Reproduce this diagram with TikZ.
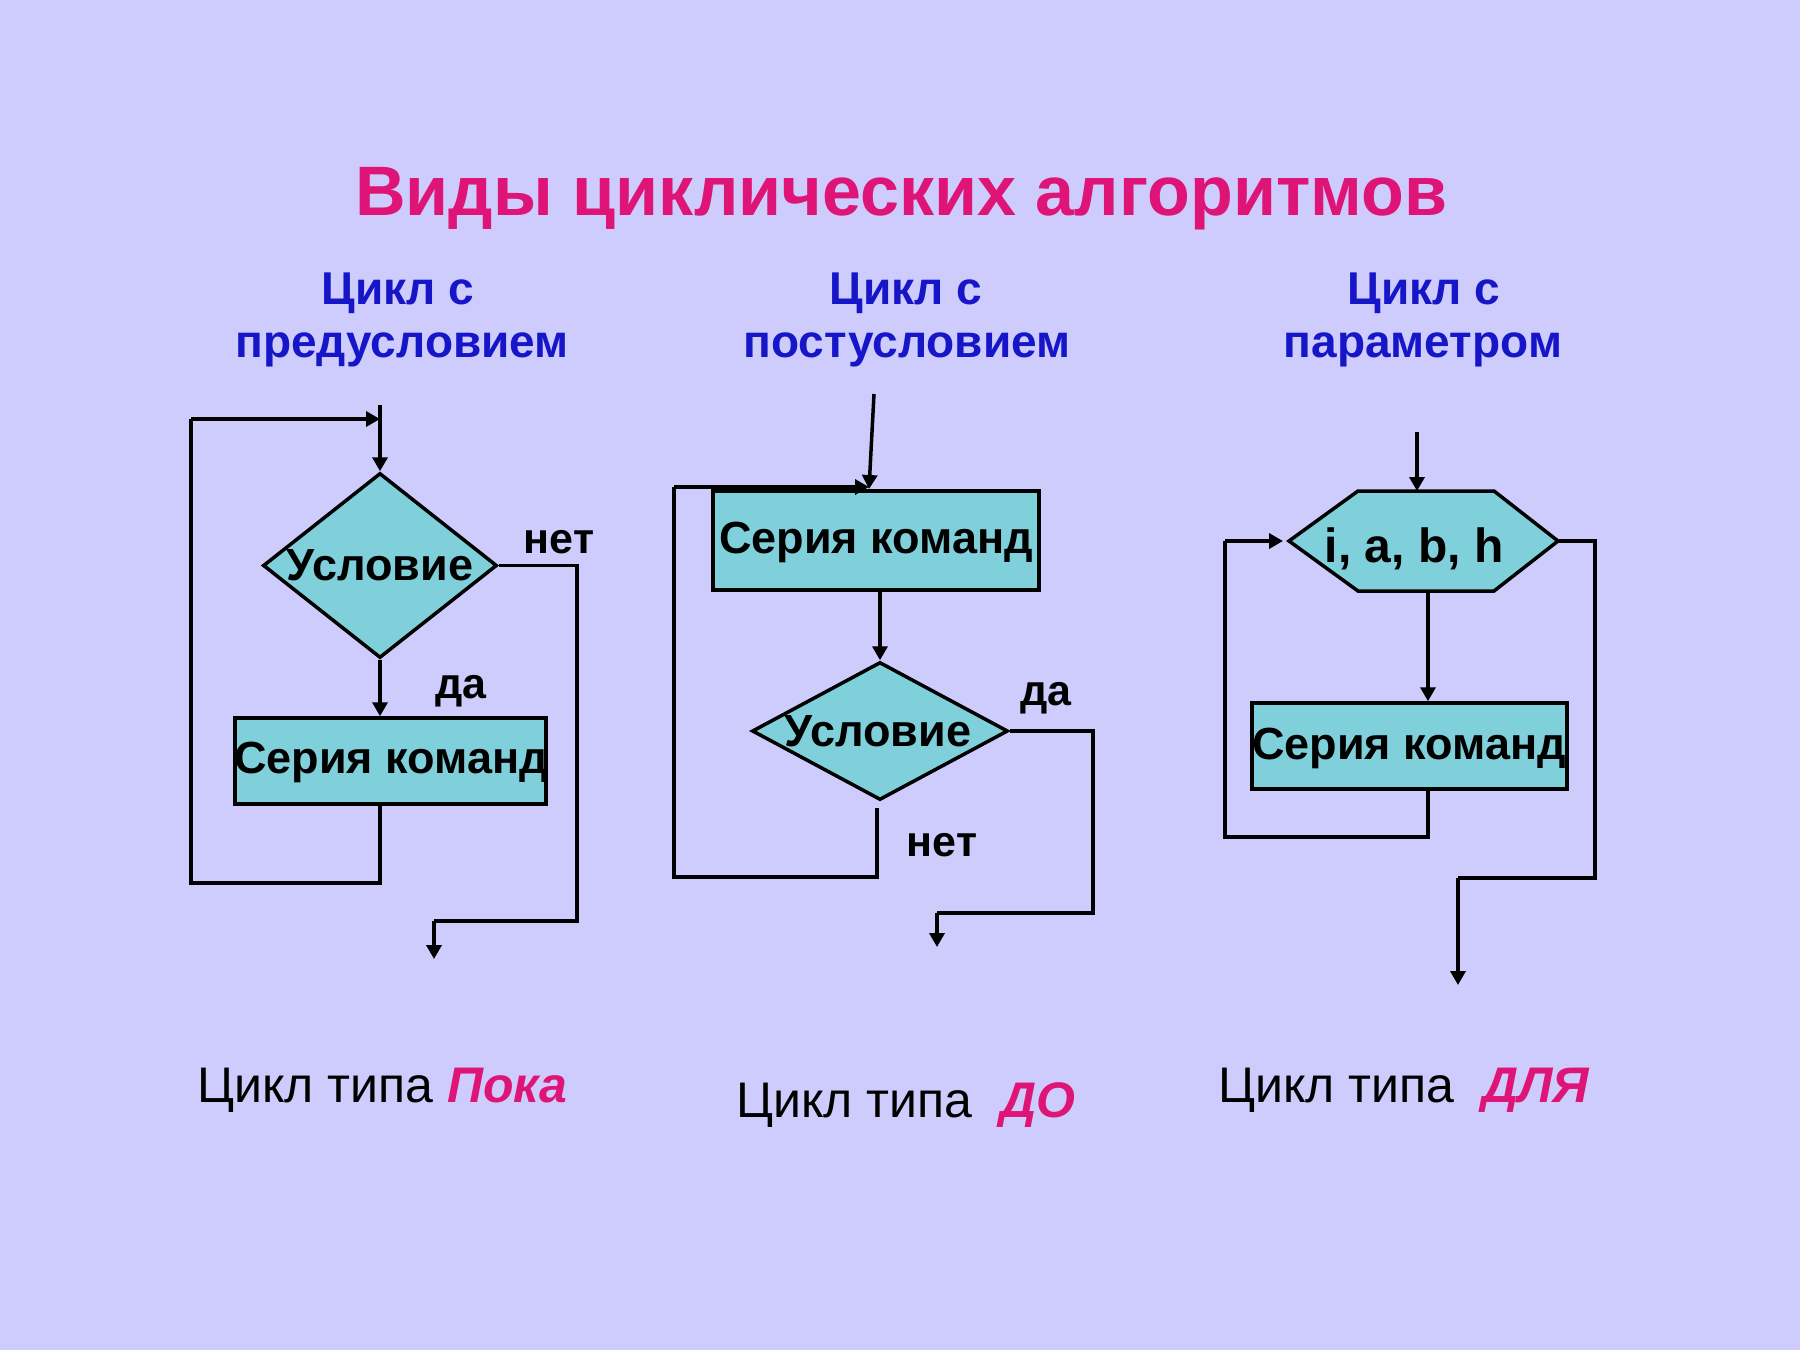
\documentclass[tikz,border=0pt]{standalone}
\usepackage{fontspec}
\setmainfont{Liberation Sans}
\usetikzlibrary{shapes.geometric,arrows.meta}
\definecolor{bg}{RGB}{205,204,252}
\definecolor{boxfill}{RGB}{128,208,220}
\definecolor{ttl}{RGB}{222,20,118}
\definecolor{subc}{RGB}{22,22,200}
\newcommand{\hlword}[1]{\textcolor{ttl}{\bfseries\itshape #1}}
\begin{document}
\begin{tikzpicture}[x=0.5pt,y=-0.5pt,
  ln/.style={line width=1.75pt, draw=black},
  arr/.style={ln, -{Triangle[width=7.5pt,length=7pt]}},
  blk/.style={draw=black, line width=1.75pt, fill=boxfill},
  dia/.style={blk, diamond, inner sep=0pt},
  boxs/.style={blk, rectangle, inner sep=0pt},
  bt/.style={inner sep=0pt, font=\bfseries\fontsize{22.5pt}{24pt}\selectfont},
  lbl/.style={inner sep=0pt, anchor=base, font=\bfseries\fontsize{21.5pt}{23pt}\selectfont},
  subh/.style={inner sep=0pt, anchor=base, text=subc, font=\bfseries\fontsize{23pt}{25pt}\selectfont},
  bot/.style={inner sep=0pt, anchor=base west, font=\fontsize{25pt}{27pt}\selectfont}
]
\useasboundingbox (0,0) rectangle (1800,1350);
\fill[bg] (0,0) rectangle (1800,1350);

% title
\node[inner sep=0pt, anchor=base, text=ttl, font=\bfseries\fontsize{35pt}{37pt}\selectfont] (title) at (901,215) {Виды циклических алгоритмов};

% subheadings
\node[subh] (s1a) at (398,304) {Цикл с};
\node[subh] (s1b) at (402,357) {предусловием};
\node[subh] (s2a) at (906,304) {Цикл с};
\node[subh] (s2b) at (907,357) {постусловием};
\node[subh] (s3a) at (1424,304) {Цикл с};
\node[subh] (s3b) at (1423,357) {параметром};

% ---------- panel 1 ----------
\node[dia, minimum width=117pt, minimum height=92.5pt] (d1) at (380,565.5) {};
\node[bt] (d1t) at (380,565) {Условие};
\node[boxs, minimum width=155.5pt, minimum height=43pt] (b1) at (390.5,761) {};
\node[bt] (b1t) at (391,762) {Серия команд};
\coordinate (e1) at (380,405);
\coordinate (l1a) at (191,883);
\coordinate (l1b) at (191,419);
\coordinate (n1a) at (577,565.5);
\coordinate (n1b) at (577,921);
\coordinate (n1c) at (434,921);
\coordinate (n1d) at (434,959);
\draw[arr] (e1) -- (d1.north);
\draw[arr] (d1.south) -- (b1.north -| d1.south);
\draw[ln] (b1.south -| d1.south) -- (d1.south |- l1a) -- (l1a) -- (l1b);
\draw[arr] (l1b) -- (d1.south |- l1b);
\draw[ln] (d1.east) -- (n1a) -- (n1b) -- (n1c);
\draw[arr] (n1c) -- (n1d);
\node[lbl] (t1n) at (559,553) {нет};
\node[lbl] (t1d) at (461,698) {да};

% ---------- panel 2 ----------
\node[boxs, minimum width=163pt, minimum height=49.5pt] (b2) at (876,540.5) {};
\node[bt] (b2t) at (876,542) {Серия команд};
\node[dia, minimum width=128pt, minimum height=69pt] (d2) at (880,731) {};
\node[bt] (d2t) at (878,731) {Условие};
\coordinate (e2) at (874,394);
\coordinate (t2) at (869,489);
\coordinate (l2s) at (877,808);
\coordinate (l2a) at (877,877);
\coordinate (l2b) at (674,877);
\coordinate (l2c) at (674,487);
\coordinate (n2a) at (1093,731);
\coordinate (n2b) at (1093,913);
\coordinate (n2c) at (937,913);
\coordinate (n2d) at (937,947);
\draw[arr] (e2) -- (t2);
\draw[ln] (l2s) -- (l2a) -- (l2b) -- (l2c);
\draw[arr] (l2c) -- (t2 |- l2c);
\draw[arr] (b2.south -| d2.north) -- (d2.north);
\draw[ln] (d2.east) -- (n2a) -- (n2b) -- (n2c);
\draw[arr] (n2c) -- (n2d);
\node[lbl] (t2d) at (1046,705) {да};
\node[lbl] (t2n) at (942,856) {нет};

% ---------- panel 3 ----------
\draw[blk] (1289,541) -- (1358,491) -- (1494,491) -- (1558,541) -- (1494,591) -- (1358,591) -- cycle;
\coordinate (hx) at (1424,541);
\node[inner sep=0pt, font=\bfseries\fontsize{24pt}{26pt}\selectfont] (hxt) at (1414,549) {i, a, b, h};
\node[boxs, minimum width=157.5pt, minimum height=43pt] (b3) at (1409.5,746) {};
\node[bt] (b3t) at (1409,748) {Серия команд};
\coordinate (hxn) at (1417,491);
\coordinate (hxs) at (1428,591);
\coordinate (hxw) at (1289,541);
\coordinate (hxe) at (1558,541);
\coordinate (e3) at (1417,432);
\coordinate (l3a) at (1428,837);
\coordinate (l3b) at (1225,837);
\coordinate (l3c) at (1225,541);
\coordinate (x3a) at (1595,541);
\coordinate (x3b) at (1595,878);
\coordinate (x3c) at (1458,878);
\coordinate (x3d) at (1458,985);
\draw[arr] (e3) -- (hxn);
\draw[arr] (hxs) -- (b3.north -| hxs);
\draw[ln] (b3.south -| l3a) -- (l3a) -- (l3b) -- (l3c);
\draw[arr] (l3c) -- ([xshift=-3pt]hxw);
\draw[ln] (hxe) -- (x3a) -- (x3b) -- (x3c);
\draw[arr] (x3c) -- (x3d);

% ---------- bottom captions ----------
\node[bot] (c1) at (197,1102) {Цикл типа \hlword{Пока}};
\node[bot] (c2) at (736,1117) {Цикл типа \ \hlword{ДО}};
\node[bot] (c3) at (1218,1102) {Цикл типа \ \hlword{ДЛЯ}};
\end{tikzpicture}
\end{document}
